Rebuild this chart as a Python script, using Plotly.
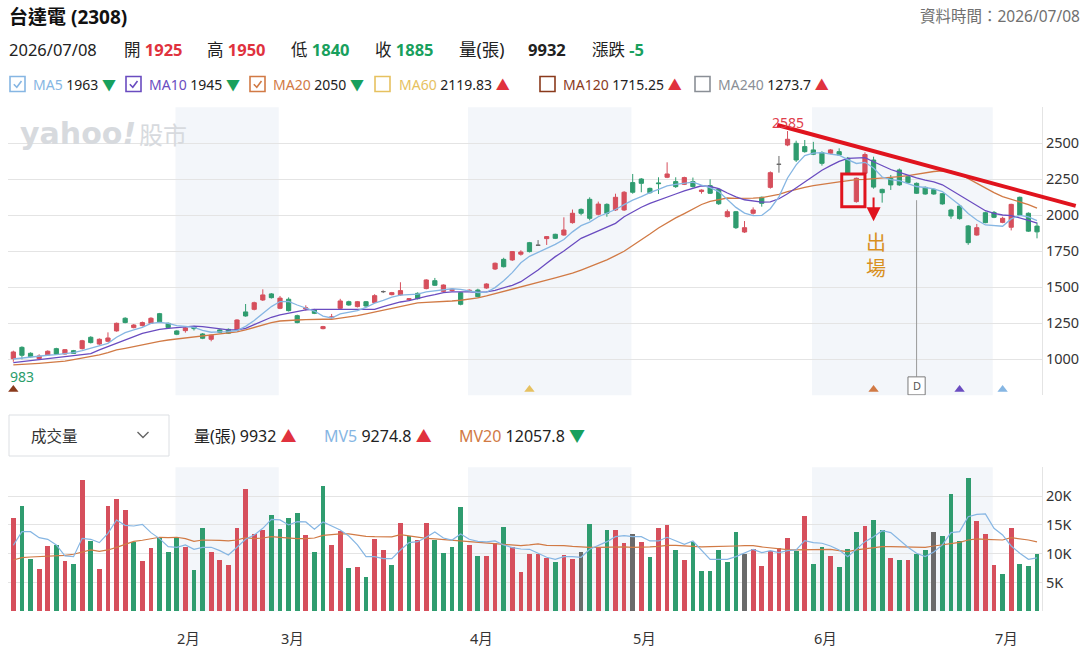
import plotly.graph_objects as go

W, H = 1088, 650
FONT = "Noto Sans, Noto Sans CJK TC, sans-serif"

# ---------------- data ----------------
open_ = [1004,1083,1042,1005,1030,1074,1037,1060,1074,1153,
         1106,1125,1197,1285,1220,1234,1250,1317,1250,1197,
         1199,1227,1176,1139,1204,1208,1204,1329,1347,1412,
         1454,1354,1417,1303,1350,1343,1213,1288,1354,1400,
         1366,1400,1394,1470,1449,1447,1414,1458,1491,1546,
         1472,1477,1463,1475,1481,1495,1627,1694,1690,1730,
         1810,1792,1838,1868,1863,1949,2041,2111,2007,2076,
         2037,2037,2227,2252,2187,2225,2264,2234,2215,2234,
         2165,2206,2180,1991,2025,1884,2014,2125,2194,2354,
         2488,2500,2477,2454,2435,2431,2442,2396,2095,2292,
         2384,2180,2257,2315,2268,2222,2194,2180,2150,2037,
         2064,1926,1863,2018,2020,1951,1917,2125,2014,1925]
high = [1060,1090,1048,1035,1062,1080,1070,1065,1135,1160,
        1145,1187,1255,1292,1245,1262,1292,1322,1255,1202,
        1222,1232,1182,1172,1210,1214,1278,1384,1400,1486,
        1460,1440,1430,1310,1375,1350,1232,1315,1420,1407,
        1405,1405,1452,1478,1468,1535,1425,1465,1556,1565,
        1520,1490,1468,1486,1490,1528,1672,1705,1752,1757,
        1815,1828,1856,1872,1986,2040,2048,2125,2095,2083,
        2150,2168,2287,2258,2192,2264,2368,2264,2268,2262,
        2180,2250,2187,2040,2030,1960,2055,2130,2305,2412,
        2585,2518,2523,2510,2445,2460,2465,2405,2262,2437,
        2407,2185,2280,2325,2275,2228,2200,2186,2155,2045,
        2070,1932,1940,2025,2030,1990,2080,2130,2020,1950]
low = [983,1000,1012,995,1025,1030,1032,1037,1068,1110,
       1100,1118,1192,1250,1215,1228,1245,1255,1215,1168,
       1185,1200,1140,1125,1182,1176,1200,1296,1340,1405,
       1422,1348,1332,1250,1338,1314,1208,1282,1348,1372,
       1360,1365,1390,1460,1444,1440,1405,1416,1486,1510,
       1465,1470,1375,1468,1430,1490,1620,1638,1683,1720,
       1742,1792,1794,1835,1858,1942,2000,1965,2000,1990,
       2030,2030,2150,2160,2150,2148,2258,2190,2210,2193,
       2150,2148,2072,1985,1905,1878,2005,2060,2185,2296,
       2480,2370,2435,2418,2345,2425,2412,2280,2088,2275,
       2185,2088,2176,2205,2220,2148,2143,2143,2074,1975,
       1970,1795,1858,1945,1980,1945,1895,1995,1885,1840]
close = [1051,1028,1018,1023,1056,1035,1067,1041,1129,1116,
         1139,1148,1250,1255,1238,1255,1285,1261,1220,1174,
         1218,1213,1146,1167,1187,1181,1273,1301,1393,1447,
         1428,1425,1338,1255,1357,1319,1227,1294,1405,1377,
         1400,1370,1442,1470,1463,1477,1420,1421,1551,1514,
         1516,1486,1382,1479,1435,1523,1667,1643,1748,1745,
         1748,1792,1852,1840,1898,2014,2014,1979,2078,2014,
         2125,2160,2160,2222,2157,2220,2287,2199,2262,2199,
         2175,2153,2080,2025,1914,1914,2037,2083,2296,2354,
         2528,2384,2442,2424,2361,2454,2419,2287,2257,2422,
         2196,2157,2211,2211,2227,2153,2148,2148,2079,1995,
         1977,1810,1914,1949,1986,1979,2076,2002,1890,1885]
volume = [16150,18170,9030,7350,11340,11520,8620,8220,22800,12210,
          7350,18170,19440,17590,11920,8620,10940,12850,10300,12620,
          11110,7180,14470,10300,8850,7990,14470,21120,13430,14000,
          16720,14240,16150,16960,13190,10300,21760,11520,13830,7410,
          7580,5900,12560,10650,7990,15280,12960,12380,15280,12380,
          10070,11110,18000,11520,9490,9490,11800,14640,11110,6710,
          9900,9900,9200,8450,9660,9090,10300,15100,10940,14060,
          14060,11750,13430,11980,9430,14470,14870,10530,8850,11980,
          7000,7000,10530,8450,13660,9840,10760,7870,10360,10940,
          12620,10360,16550,8220,11110,9610,7580,10760,13660,14700,
          15860,14060,9260,8910,8910,9900,10530,13660,13020,20370,
          12210,23030,15570,13430,8040,6370,14470,8220,7870,9932]
# u = up (red), d = down (green), f = flat (gray)
vol_dir = ("u d d u u d u d u d "
           "u u u u d u u d d d "
           "u d d u u u u u u u "
           "d d d d u d d u u d "
           "u d u u d u d u u d "
           "d d d u d u u d u u "
           "u u u d u u f d u d "
           "u u f u d u u d u d "
           "d d d d d f u u u u "
           "u d u d d u d d d u "
           "d d u d u d d f d d "
           "d d u u u d u d d d").split()
ma5 = [1002,1009,1018,1021,1028,1032,1039,1046,1060,1076,
       1094,1111,1153,1185,1204,1222,1249,1256,1250,1234,
       1229,1222,1201,1188,1190,1192,1200,1229,1270,1319,
       1366,1401,1402,1377,1356,1335,1300,1287,1316,1328,
       1338,1360,1390,1409,1431,1445,1450,1452,1468,1477,
       1482,1490,1485,1475,1464,1466,1498,1545,1602,1670,
       1715,1742,1770,1798,1832,1885,1928,1953,1990,2015,
       2040,2074,2105,2130,2158,2180,2204,2215,2222,2230,
       2210,2192,2165,2110,2055,2015,1998,1999,2046,2128,
       2259,2350,2414,2432,2435,2425,2417,2387,2360,2368,
       2328,2266,2248,2240,2220,2200,2193,2183,2165,2120,
       2072,2012,1967,1933,1926,1924,1975,2000,1989,1963]
ma10 = [977,984,993,998,1005,1011,1018,1025,1032,1039,
        1065,1088,1116,1139,1162,1180,1194,1208,1215,1222,
        1227,1231,1227,1218,1211,1204,1204,1215,1241,1268,
        1292,1308,1319,1331,1343,1347,1347,1347,1347,1347,
        1343,1343,1347,1366,1384,1398,1407,1424,1437,1449,
        1463,1468,1470,1468,1465,1468,1479,1495,1514,1539,
        1579,1620,1667,1713,1752,1799,1840,1866,1891,1914,
        1944,1990,2023,2056,2083,2106,2130,2148,2169,2187,
        2205,2200,2185,2155,2128,2108,2098,2092,2093,2115,
        2150,2190,2230,2270,2313,2345,2375,2396,2396,2400,
        2372,2345,2318,2298,2278,2260,2244,2232,2212,2176,
        2141,2104,2069,2032,2014,2002,1998,1984,1965,1945]
ma20 = [961,963,967,972,977,981,988,998,1007,1018,
        1030,1046,1065,1076,1088,1104,1116,1125,1134,1141,
        1148,1155,1162,1167,1174,1180,1190,1204,1222,1238,
        1255,1266,1271,1273,1275,1278,1278,1278,1285,1294,
        1303,1315,1328,1342,1356,1370,1382,1392,1396,1398,
        1403,1405,1410,1416,1426,1440,1455,1470,1485,1500,
        1518,1532,1550,1566,1582,1598,1620,1642,1665,1690,
        1720,1750,1790,1828,1870,1912,1948,1982,2012,2042,
        2075,2097,2111,2120,2118,2116,2119,2123,2132,2146,
        2165,2182,2194,2206,2217,2224,2232,2241,2248,2250,
        2254,2257,2262,2268,2276,2287,2296,2304,2308,2306,
        2287,2255,2218,2187,2157,2130,2111,2095,2074,2050]
mv5 = [11460,13830,13830,12790,12500,11520,9610,9490,12670,12500,
       11920,13540,15860,14930,14810,15100,13660,12620,11230,11110,
       11520,10760,11110,11110,10530,9780,11110,12500,13250,14410,
       15970,15860,14990,15570,15510,14240,15510,14810,14120,13080,
       11520,9490,9490,9140,9140,10650,11920,12090,12850,13770,
       12730,12380,13430,12500,12150,12040,12210,11520,11050,10820,
       10760,10070,9380,9030,9490,9490,9380,10760,11460,12090,
       12960,13140,12960,12960,12210,12210,12850,12210,11630,12210,
       10650,9030,9030,9030,9490,10190,10760,10190,10530,10190,
       10530,10650,12270,11920,11810,11340,10650,9490,10760,12090,
       12960,14000,13660,12380,11110,10070,9490,10300,11520,13660,
       13830,16430,16840,16900,14410,13250,11340,10070,9030,9274.8]
mv20 = [8910,9320,9430,9490,9550,9610,9720,9900,10300,10650,
        10420,10650,11110,11690,12150,12330,12620,12850,12790,12850,
        12620,12150,12380,12380,12330,12210,12380,12790,12620,12730,
        12960,12850,12730,12620,12620,12730,13190,13370,13430,13430,
        13190,13020,12960,12910,12910,13310,13080,12850,12670,12560,
        12440,12380,12270,12150,12040,11920,11810,11570,11520,11400,
        11520,11690,11460,11460,11400,11280,11170,11110,11110,11170,
        11230,11170,11110,11110,11170,11280,11460,11460,11340,11170,
        11170,11230,11230,11230,11340,11400,11400,11170,11000,10760,
        10710,10650,10650,10650,10710,10760,10530,10360,10650,10880,
        11110,11230,11230,11230,11110,11110,11110,11340,11570,11860,
        11980,12380,12560,12500,12500,12380,12790,12620,12380,12057.8]

month_labels = ["2月", "3月", "4月", "5月", "6月", "7月"]
month_first_idx = [19, 31, 53, 72, 93, 114]
shaded_spans = [(19, 31), (53, 72), (93, 114)]

ma_other = [("MA60", "2119.83", "up"), ("MA120", "1715.25", "up"), ("MA240", "1273.7", "up")]
signal_idx = [0, 60, 100, 110, 115]
signal_names = ["MA120", "MA60", "MA20", "MA10", "MA5"]
div_idx = 105
trend_start = (88.8, 2627)
trend_end = (123.5, 2065)
exit_box = (96.3, 99.0, 2060, 2287)
exit_arrow = (100, 2134, 1958)
update_date = "2026/07/08"
stock_title = "台達電 (2308)"

# ---------------- styles ----------------
RED = "#d64f5c"
GREEN = "#2f9c6f"
GRAYC = "#6a6a6a"
TRED = "#e0323e"
TGREEN = "#18a05d"
MA_COL = {"MA5": "#86b6e3", "MA10": "#6a4cc0", "MA20": "#d17a45",
          "MA60": "#e6c160", "MA120": "#8a3a1c", "MA240": "#8a8f96"}
LINE_RED = "#e0141e"

N = len(close)
idx = list(range(N))
X_RANGE = [-0.62, 119.58]
x_dom = [8 / W, 1042 / W]
price_dom = [1 - 395.3 / H, 1 - 107.3 / H]
vol_dom = [1 - 611.3 / H, 1 - 467.3 / H]
P_RANGE = [750, 2750]
V_RANGE = [0, 25000]


def px(x):
    return x / W


def py(y):
    return 1 - y / H


def xpaper(i):
    return x_dom[0] + (i - X_RANGE[0]) / (X_RANGE[1] - X_RANGE[0]) * (x_dom[1] - x_dom[0])


def ypaper(p):
    return price_dom[0] + (p - P_RANGE[0]) / (P_RANGE[1] - P_RANGE[0]) * (price_dom[1] - price_dom[0])


fig = go.Figure()

# candles split by colour
groups = {"up": [], "down": [], "flat": []}
for i in idx:
    if close[i] > open_[i]:
        groups["up"].append(i)
    elif close[i] < open_[i]:
        groups["down"].append(i)
    else:
        groups["flat"].append(i)
for key, col in (("up", RED), ("down", GREEN), ("flat", GRAYC)):
    sel = groups[key]
    fig.add_trace(go.Candlestick(
        x=sel, open=[open_[i] for i in sel], high=[high[i] for i in sel],
        low=[low[i] for i in sel], close=[close[i] for i in sel],
        increasing=dict(line=dict(color=col, width=1), fillcolor=col),
        decreasing=dict(line=dict(color=col, width=1), fillcolor=col),
        whiskerwidth=0, xaxis="x", yaxis="y", showlegend=False, hoverinfo="skip"))

for name, arr in (("MA20", ma20), ("MA10", ma10), ("MA5", ma5)):
    fig.add_trace(go.Scatter(x=idx, y=arr, mode="lines", line=dict(color=MA_COL[name], width=1.3),
                             xaxis="x", yaxis="y", showlegend=False, hoverinfo="skip"))

# signal triangles
fig.add_trace(go.Scatter(x=signal_idx, y=[790] * len(signal_idx), mode="markers",
                         marker=dict(symbol="triangle-up", size=9, color=[MA_COL[n] for n in signal_names]),
                         xaxis="x", yaxis="y", showlegend=False, hoverinfo="skip", cliponaxis=False))

# volume
dir_col = {"u": RED, "d": GREEN, "f": GRAYC}
fig.add_trace(go.Bar(x=idx, y=volume, width=0.55, marker=dict(color=[dir_col[d] for d in vol_dir], line=dict(width=0)),
                     xaxis="x2", yaxis="y2", showlegend=False, hoverinfo="skip"))
fig.add_trace(go.Scatter(x=idx, y=mv20, mode="lines", line=dict(color=MA_COL["MA20"], width=1.2),
                         xaxis="x2", yaxis="y2", showlegend=False, hoverinfo="skip"))
fig.add_trace(go.Scatter(x=idx, y=mv5, mode="lines", line=dict(color=MA_COL["MA5"], width=1.2),
                         xaxis="x2", yaxis="y2", showlegend=False, hoverinfo="skip"))

shapes = []
annotations = []

# shaded months
for a, b in shaded_spans:
    for yr in ("y domain", "y2 domain"):
        shapes.append(dict(type="rect", xref="x", yref=yr, x0=a - 0.15, x1=b - 0.15, y0=0, y1=1,
                           fillcolor="#f3f6fa", line=dict(width=0), layer="below"))

# month labels
for lab, fi in zip(month_labels, month_first_idx):
    annotations.append(dict(x=fi - 0.15, y=py(638), xref="x2", yref="paper", text=lab, showarrow=False,
                            xanchor="left", yanchor="middle", font=dict(size=14.5, color="#333", family=FONT)))


def text(x, y, s, size, color="#222", anchor="left", family=FONT):
    annotations.append(dict(x=px(x), y=py(y), xref="paper", yref="paper", text=s, showarrow=False,
                            xanchor=anchor, yanchor="middle", font=dict(size=size, color=color, family=family)))


def span(s, c):
    return "<span style='color:%s'>%s</span>" % (c, s)


prev_close = close[-2]


def pc(v):
    return TRED if v > prev_close else (TGREEN if v < prev_close else "#222")


# header
text(7, 17, "<b>%s</b>" % stock_title, 19, "#111")
text(1082, 16, "資料時間：%s" % update_date, 15.5, "#707070", anchor="right")
row2 = 49.5
text(7, row2, update_date, 16.5, "#222")
for x, lab, v in ((122, "開", open_[-1]), (205, "高", high[-1]), (289, "低", low[-1]), (373, "收", close[-1])):
    text(x, row2, "%s <b>%s</b>" % (lab, span(v, pc(v))), 16.5, "#222")
text(457, row2, "量(張)", 17.5, "#222")
text(568, row2, "<b>%d</b>" % volume[-1], 16.5, "#222", anchor="right")
chg = close[-1] - prev_close
text(590, row2, "漲跌 <b>%s</b>" % span("%+d" % chg if chg else "0", TRED if chg > 0 else TGREEN), 16.5, "#222")

# MA legend row
row3 = 84
items = [("MA5", "%d" % ma5[-1], "down" if ma5[-1] < ma5[-2] else "up", True),
         ("MA10", "%d" % ma10[-1], "down" if ma10[-1] < ma10[-2] else "up", True),
         ("MA20", "%d" % ma20[-1], "down" if ma20[-1] < ma20[-2] else "up", True)]
items += [(n, v, d, False) for n, v, d in ma_other]
box_x = [10, 126, 250, 375, 540, 695]
txt_x = [31, 147, 271, 397, 561, 716]
for (name, val, d, checked), bx, tx in zip(items, box_x, txt_x):
    col = MA_COL[name]
    shapes.append(dict(type="rect", xref="paper", yref="paper", x0=px(bx), x1=px(bx + 15),
                       y0=py(row3 + 7.5), y1=py(row3 - 7.5), line=dict(color=col, width=1.6),
                       fillcolor="white"))
    if checked:
        path = "M %f,%f L %f,%f L %f,%f" % (px(bx + 3.8), py(row3 + 0.2), px(bx + 6.8), py(row3 + 3.2),
                                            px(bx + 11.5), py(row3 - 3))
        shapes.append(dict(type="path", xref="paper", yref="paper", path=path, line=dict(color=col, width=1.6)))
    arrow = span("▼", TGREEN) if d == "down" else span("▲", TRED)
    text(tx, row3, "%s %s %s" % (span(name, col), val, arrow), 14, "#222")

# watermark
text(18, 133, "<b>yahoo<i>!</i></b>", 30, "#d7dade", family="DejaVu Sans")
text(137, 134, "股市", 24, "#d7dade")

# volume header
shapes.append(dict(type="rect", xref="paper", yref="paper", x0=px(9), x1=px(169), y0=py(456), y1=py(415),
                   line=dict(color="#dcdfe3", width=1)))
text(29, 435.5, "成交量", 15.5, "#333")
shapes.append(dict(type="path", xref="paper", yref="paper",
                   path="M %f,%f L %f,%f L %f,%f" % (px(137.5), py(432), px(143), py(437.5), px(148.5), py(432)),
                   line=dict(color="#666", width=1.4)))
vrow = 435.5
text(192, vrow, "量(張) %d %s" % (volume[-1], span("▲", TRED)), 16, "#222")
text(322, vrow, "%s %s %s" % (span("MV5", MA_COL["MA5"]), mv5[-1], span("▲", TRED)), 16, "#222")
text(457, vrow, "%s %s %s" % (span("MV20", MA_COL["MA20"]), mv20[-1], span("▼", TGREEN)), 16, "#222")

# high / low labels
hi_i = max(idx, key=lambda i: high[i])
lo_i = min(idx, key=lambda i: low[i])
annotations.append(dict(x=hi_i, y=high[hi_i], xref="x", yref="y", text=str(high[hi_i]), showarrow=False,
                        xanchor="center", yanchor="bottom", yshift=-3, font=dict(size=14, color="#e0404c", family=FONT)))
annotations.append(dict(x=X_RANGE[0], y=low[lo_i], xref="x", yref="y", text=str(low[lo_i]), showarrow=False,
                        xanchor="left", yanchor="top", yshift=-3, font=dict(size=14, color="#2a9d6a", family=FONT)))

# dividend marker
shapes.append(dict(type="line", xref="x", yref="y", x0=div_idx, x1=div_idx, y0=2105, y1=878,
                   line=dict(color="#9a9a9a", width=1)))
shapes.append(dict(type="rect", xref="x", yref="y", x0=div_idx - 1.0, x1=div_idx + 1.0, y0=753, y1=878,
                   line=dict(color="#7a7a7a", width=1), fillcolor="white"))
annotations.append(dict(x=div_idx, y=815, xref="x", yref="y", text="D", showarrow=False,
                        xanchor="center", yanchor="middle", font=dict(size=11, color="#555", family=FONT)))

# drawn trend line (may run past the plot area)
shapes.append(dict(type="line", xref="paper", yref="paper",
                   x0=xpaper(trend_start[0]), y0=ypaper(trend_start[1]),
                   x1=xpaper(trend_end[0]), y1=ypaper(trend_end[1]),
                   line=dict(color=LINE_RED, width=4)))
# exit box and arrow
bx0, bx1, by0, by1 = exit_box
shapes.append(dict(type="rect", xref="x", yref="y", x0=bx0, x1=bx1, y0=by0, y1=by1,
                   line=dict(color=LINE_RED, width=3)))
ax_i, ay0, ay1 = exit_arrow
annotations.append(dict(x=ax_i, y=ay1, ax=ax_i, ay=ay0, xref="x", yref="y", axref="x", ayref="y",
                        text="", showarrow=True, arrowhead=2, arrowsize=1.4, arrowwidth=2, arrowcolor=LINE_RED))
annotations.append(dict(x=ax_i + 0.3, y=1724, xref="x", yref="y", text="出<br>場", showarrow=False,
                        xanchor="center", yanchor="middle", font=dict(size=20, color="#d8901f", family=FONT)))

axis_font = dict(size=14.5, color="#333", family=FONT)
p_ticks = list(range(750, 2751, 250))
v_ticks = list(range(0, 25001, 5000))

fig.update_layout(
    width=W, height=H, margin=dict(l=0, r=0, t=0, b=0),
    paper_bgcolor="white", plot_bgcolor="white",
    showlegend=False, hovermode=False, bargap=0,
    font=dict(family=FONT),
    xaxis=dict(domain=x_dom, range=X_RANGE, anchor="y", showticklabels=False, showgrid=False,
               zeroline=False, rangeslider=dict(visible=False), fixedrange=True),
    xaxis2=dict(domain=x_dom, range=X_RANGE, anchor="y2", showticklabels=False, showgrid=False,
                zeroline=False, matches="x", fixedrange=True),
    yaxis=dict(domain=price_dom, range=P_RANGE, side="right", anchor="x", tickvals=p_ticks,
               ticktext=["" if v in (P_RANGE[0], P_RANGE[1]) else str(v) for v in p_ticks],
               gridcolor="#e4e4e4", gridwidth=1, zeroline=False, showline=True, linecolor="#e4e4e4",
               tickfont=axis_font, fixedrange=True),
    yaxis2=dict(domain=vol_dom, range=V_RANGE, side="right", anchor="x2", tickvals=v_ticks,
                ticktext=["" if v in (V_RANGE[0], V_RANGE[1]) else "%dK" % (v // 1000) for v in v_ticks],
                gridcolor="#e4e4e4", gridwidth=1, zeroline=False, showline=True, linecolor="#e4e4e4",
                tickfont=axis_font, fixedrange=True),
    shapes=shapes, annotations=annotations,
)

fig.write_html("out.html")
